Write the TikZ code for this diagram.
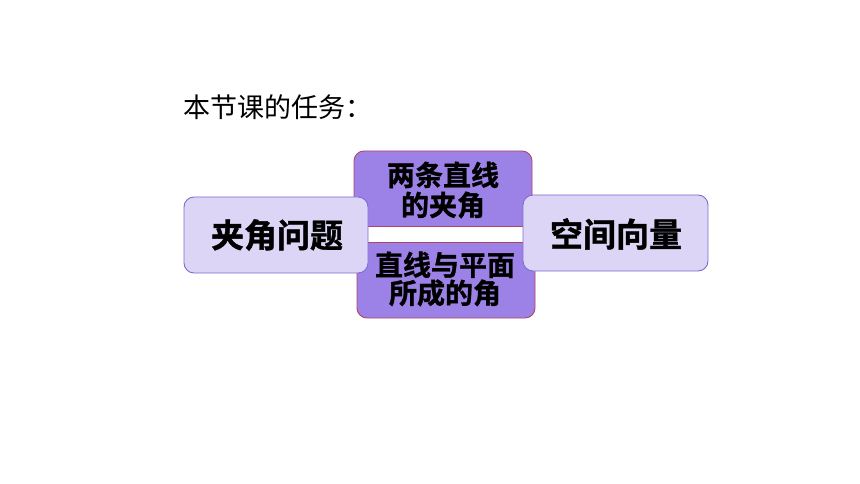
\documentclass[tikz,border=0pt]{standalone}
\usepackage{fontspec}
\newfontfamily\cjk{Noto Sans CJK SC}
\newfontfamily\cjkb[FakeBold=1.2]{Noto Sans CJK SC Bold}
\definecolor{lav}{HTML}{DDD5F6}
\definecolor{lavline}{HTML}{7E6CD0}
\definecolor{purp}{HTML}{9C82E6}
\definecolor{redline}{HTML}{B24565}
\begin{document}
\begin{tikzpicture}[x=1pt,y=-1pt,
  lightbox/.style={draw=lavline,line width=0.9pt,fill=lav,rounded corners=10pt},
  purpbox/.style={draw=redline,line width=0.9pt,fill=purp,rounded corners=10pt},
  bigtxt/.style={font=\cjkb\fontsize{33}{35}\selectfont,text=black},
  midtxt/.style={font=\cjkb\fontsize{28}{32}\selectfont,text=black,align=center}]
\useasboundingbox (0,0) rectangle (860,484);
\fill[white] (0,0) rectangle (860,484);
\node[anchor=west,font=\cjk\fontsize{27}{29}\selectfont,inner sep=0pt] (title) at (183,107) {本节课的任务：};
% purple boxes
\begin{scope}
\clip (300,100) rectangle (600,226);
\draw[purpbox] (354,151) rectangle (532,270);
\end{scope}
\draw[redline,line width=0.9pt] (354,226) -- (532,226);
\begin{scope}
\clip (300,242) rectangle (600,340);
\draw[purpbox] (357,200) rectangle (535,318);
\end{scope}
\draw[redline,line width=0.9pt] (357,242) -- (535,242);
\node[midtxt] (t1) at (443,190) {两条直线\\[-2pt]的夹角};
\node[midtxt] (t2) at (445,279) {直线与平面\\[-4pt]所成的角};
% side boxes
\draw[lightbox] (184,197) rectangle (368,273);
\node[bigtxt] (left) at (277,235) {夹角问题};
\draw[lightbox] (523,195) rectangle (708,271);
\node[bigtxt] (right) at (616,234) {空间向量};
\end{tikzpicture}
\end{document}
